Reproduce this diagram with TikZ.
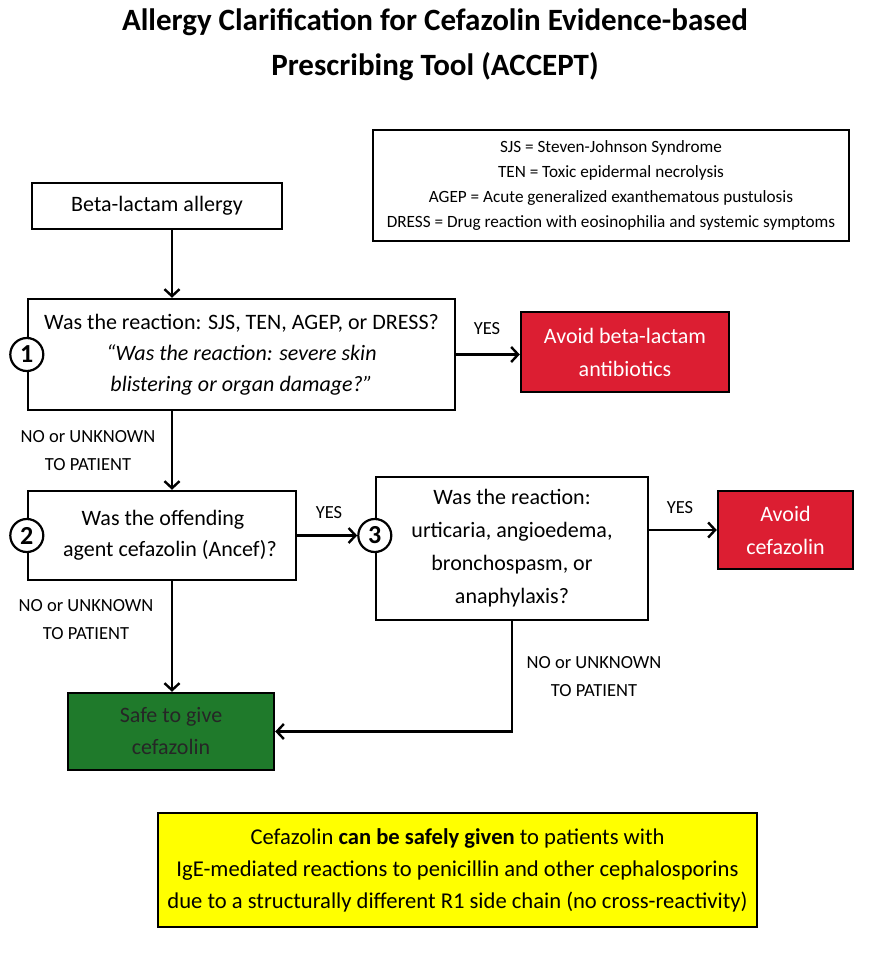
\documentclass[tikz,border=0pt]{standalone}
\usepackage{fontspec}
\setmainfont{Carlito}
\usetikzlibrary{arrows.meta,calc}
\definecolor{avoidred}{HTML}{DC1E32}
\definecolor{safegreen}{HTML}{1F7A2B}
\definecolor{noteyellow}{HTML}{FFFF00}
\begin{document}
\begin{tikzpicture}[x=1pt,y=-1pt,
  box/.style={draw, line width=2.4pt, align=center, inner sep=0pt, fill=white,
    font=\fontsize{22}{31}\selectfont},
  redbox/.style={box, fill=avoidred, text=white, font=\fontsize{22}{33}\selectfont},
  greenbox/.style={box, fill=safegreen, text=black!85, font=\fontsize{22}{32}\selectfont},
  legendbox/.style={draw, line width=1.4pt, align=center, inner sep=0pt,
    font=\fontsize{17.2}{25}\selectfont},
  lbl/.style={align=center, inner sep=0pt, font=\fontsize{18.5}{28}\selectfont},
  num/.style={circle, draw, line width=2.2pt, fill=white, inner sep=0pt,
    minimum size=33pt, font=\bfseries\fontsize{26}{26}\selectfont},
  arr/.style={line width=2.4pt, -{Straight Barb[length=7pt,width=15pt]}}
]
\useasboundingbox (0,0) rectangle (870,961);
\fill[white] (0,0) rectangle (870,961);

\node[align=center, inner sep=0pt, font=\bfseries\fontsize{31}{45}\selectfont] (title) at (435,44.5)
  {Allergy Clarification for Cefazolin Evidence-based\\Prescribing Tool (ACCEPT)};

\node[legendbox, minimum width=476pt, minimum height=111pt] (legend) at (611,185.5)
  {SJS = Steven-Johnson Syndrome\\TEN = Toxic epidermal necrolysis\\
   AGEP = Acute generalized exanthematous pustulosis\\
   DRESS = Drug reaction with eosinophilia and systemic symptoms};

\node[box, minimum width=250pt, minimum height=46pt] (beta) at (157,206) {Beta-lactam allergy};

\node[box, minimum width=427pt, minimum height=111pt] (q1) at (241.5,354.5)
  {Was the reaction: SJS, TEN, AGEP, or DRESS?\\
   \textit{``Was the reaction: severe skin}\\
   \textit{blistering or organ damage?''}};
\node[num] (n1) at (q1.west) {1};

\node[redbox, minimum width=208pt, minimum height=80pt] (avoid1) at (625,352)
  {Avoid beta-lactam\\antibiotics};

\node[box, minimum width=268pt, minimum height=89pt] (q2) at (162,535.5)
  {\hspace*{2pt}Was the offending\\\hspace*{16pt}agent cefazolin (Ancef)?};
\node[num] (n2) at (q2.west) {2};

\node[box, minimum width=272pt, minimum height=143pt, font=\fontsize{22}{33}\selectfont] (q3) at (512,548.5)
  {Was the reaction:\\urticaria, angioedema,\\bronchospasm, or\\anaphylaxis?};
\node[num] (n3) at (q3.west |- q2.east) {3};

\node[redbox, minimum width=135pt, minimum height=78pt] (avoid2) at (785.5,530)
  {Avoid\\cefazolin};

\node[greenbox, minimum width=206pt, minimum height=77pt] (safe) at (171,731.5)
  {Safe to give\\cefazolin};

\node[box, fill=noteyellow, minimum width=599pt, minimum height=114pt, font=\fontsize{22.6}{32}\selectfont] (note) at (457.5,870)
  {Cefazolin \textbf{can be safely given} to patients with\\
   IgE-mediated reactions to penicillin and other cephalosporins\\
   due to a structurally different R1 side chain (no cross-reactivity)};

\coordinate (cx) at (172,0);

\draw[arr] (beta.south -| cx) -- (q1.north -| cx);
\draw[arr] (q1.south -| cx) -- (q2.north -| cx);
\draw[arr] (q2.south -| cx) -- (safe.north -| cx);
\draw[arr] (q1.east) -- (q1.east -| avoid1.west);
\draw[arr] (q2.east) -- (n3.west);
\draw[arr] (avoid2.west -| q3.east) -- (avoid2.west);
\draw[arr] (q3.south) |- (safe.east);

\node[lbl] (l1) at (88,451) {NO or UNKNOWN\\TO PATIENT};
\node[lbl] (l2) at (86,620) {NO or UNKNOWN\\TO PATIENT};
\node[lbl] (l3) at (594,677) {NO or UNKNOWN\\TO PATIENT};
\node[lbl] (y1) at (487,329) {YES};
\node[lbl] (y2) at (329,513) {YES};
\node[lbl] (y3) at (680,508) {YES};
\end{tikzpicture}
\end{document}
